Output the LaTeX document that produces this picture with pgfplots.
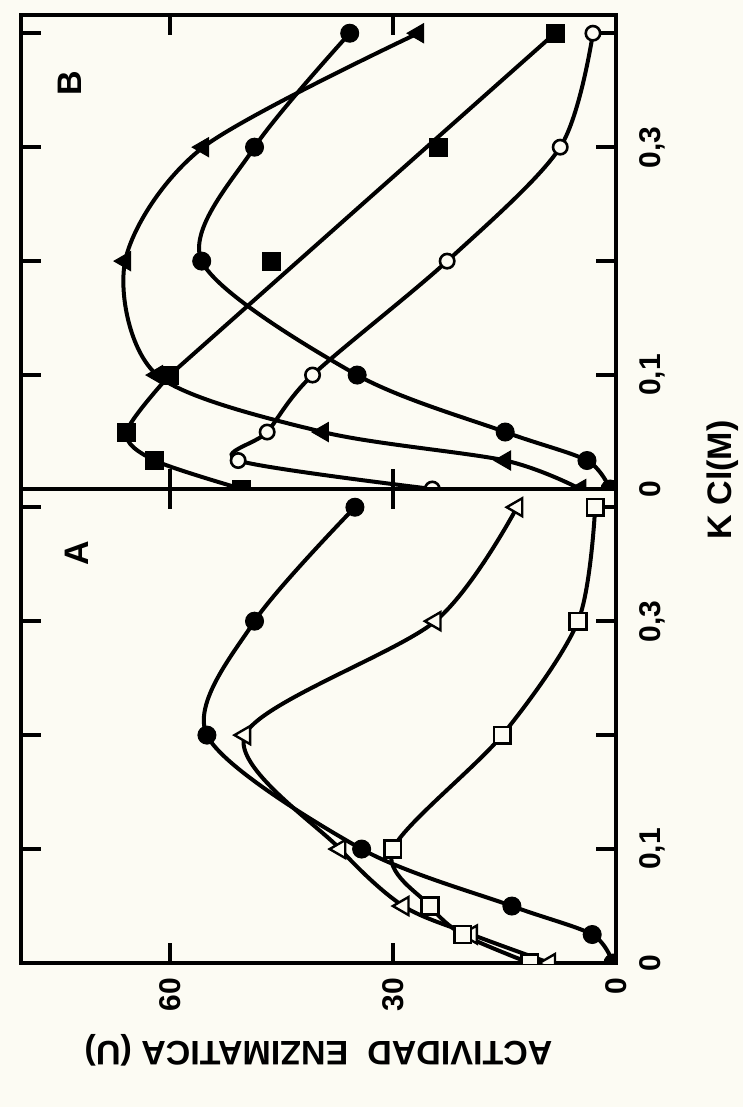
\documentclass[border=0pt]{standalone}
\usepackage{fontspec}
\setmainfont{Liberation Sans}
\usepackage{pgfplots}
\pgfplotsset{compat=1.18}
\definecolor{paper}{RGB}{252,251,243}

\pgfplotsset{
  panel/.style={
    scale only axis, width=297.5pt, height=237pt,
    xmin=0, xmax=80, x dir=reverse,
    ymin=0, ymax=0.416,
    xtick={0,30,60}, ytick={0,0.1,0.2,0.3,0.4},
    yticklabels={{0},{0,1},{},{0,3},{}},
    tick align=inside, major tick length=10pt,
    axis line style={line width=2.2pt},
    every tick/.style={line width=2pt, black},
    /pgf/number format/assume math mode=true,
    ticklabel style={font=\fontsize{15}{15}\selectfont\bfseries},
    yticklabel pos=right,
    yticklabel style={rotate=90, anchor=north},
    xticklabel style={rotate=90, anchor=east},
    yticklabel shift=8pt, xticklabel shift=4pt,
    clip marker paths=true,
    every axis plot/.append style={line width=2pt, black},
  },
  fcirc/.style={only marks, mark=*, mark size=4.5pt, mark options={fill=black, line width=0.5pt}},
  ocirc/.style={only marks, mark=*, mark size=3.6pt, mark options={fill=paper, draw=black, line width=1.3pt}},
  fsq/.style={only marks, mark=square*, mark size=4.5pt, mark options={fill=black, line width=0.5pt}},
  osq/.style={only marks, mark=square*, mark size=4.2pt, mark options={fill=paper, draw=black, line width=1.2pt}},
  ftri/.style={only marks, mark=triangle*, mark size=5.5pt, mark options={fill=black, rotate=90, line width=0.5pt}},
  otri/.style={only marks, mark=triangle*, mark size=5.2pt, mark options={fill=paper, draw=black, rotate=90, line width=1.2pt}},
}

\begin{document}
\begin{tikzpicture}[x=1pt,y=1pt]
\fill[paper] (0,0) rectangle (371.5,-553.5);

% Panel B (upper)
\begin{axis}[panel, at={(10.5pt,-244.5pt)}, anchor=south west, xticklabels={}]
  % filled circles
  \addplot[smooth] coordinates {(0.8,0) (3.9,0.025) (14.9,0.05) (34.8,0.1) (55.7,0.2) (48.6,0.3) (35.8,0.4)};
  % filled triangles
  \addplot[smooth] coordinates {(4.8,0) (14.9,0.025) (39.4,0.05) (61.7,0.1) (66.0,0.2) (55.5,0.3) (26.6,0.4)};
  % filled squares: curve up to 0.1 M, then straight line
  \addplot[smooth] coordinates {(50.3,0) (62.0,0.025) (65.8,0.05) (60.0,0.1)};
  \addplot[sharp plot] coordinates {(60.0,0.1) (8.2,0.4)};
  % open circles
  \addplot[smooth] coordinates {(24.7,0) (50.8,0.025) (46.9,0.05) (40.8,0.1) (22.7,0.2) (7.5,0.3) (3.1,0.4)};

  \addplot[fcirc] coordinates {(0.8,0) (3.9,0.025) (14.9,0.05) (34.8,0.1) (55.7,0.2) (48.6,0.3) (35.8,0.4)};
  \addplot[ftri] coordinates {(4.8,0) (14.9,0.025) (39.4,0.05) (61.7,0.1) (66.0,0.2) (55.5,0.3) (26.6,0.4)};
  \addplot[fsq] coordinates {(50.3,0) (62.0,0.025) (65.8,0.05) (60.0,0.1) (46.3,0.2) (23.9,0.3) (8.2,0.4)};
  \addplot[ocirc] coordinates {(24.7,0) (50.8,0.025) (46.9,0.05) (40.8,0.1) (22.7,0.2) (7.5,0.3) (3.1,0.4)};

  \node[rotate=90, font=\fontsize{17}{17}\selectfont\bfseries] at (axis cs:73.4,0.356) {B};
\end{axis}

% Panel A (lower)
\begin{axis}[panel, at={(10.5pt,-481.5pt)}, anchor=south west]
  \addplot[smooth] coordinates {(0.4,0) (3.2,0.025) (14.0,0.05) (34.2,0.1) (55.0,0.2) (48.6,0.3) (35.1,0.4)};
  \addplot[smooth] coordinates {(8.9,0) (19.4,0.025) (28.6,0.05) (37.1,0.1) (49.9,0.2) (24.3,0.3) (13.3,0.4)};
  \addplot[smooth] coordinates {(11.6,0) (20.6,0.025) (25.0,0.05) (30.0,0.1) (15.3,0.2) (5.1,0.3) (2.8,0.4)};

  \addplot[fcirc] coordinates {(0.4,0) (3.2,0.025) (14.0,0.05) (34.2,0.1) (55.0,0.2) (48.6,0.3) (35.1,0.4)};
  \addplot[otri] coordinates {(8.9,0) (19.4,0.025) (28.6,0.05) (37.1,0.1) (49.9,0.2) (24.3,0.3) (13.3,0.4)};
  \addplot[osq] coordinates {(11.6,0) (20.6,0.025) (25.0,0.05) (30.0,0.1) (15.3,0.2) (5.1,0.3) (2.8,0.4)};

  \node[rotate=90, font=\fontsize{17}{17}\selectfont\bfseries] at (axis cs:72.5,0.36) {A};
\end{axis}

\node[rotate=180, font=\fontsize{17}{17}\selectfont\bfseries] at (159.25,-525) {ACTIVIDAD\ \ ENZIMATICA (U)};
\node[rotate=90, font=\fontsize{17}{17}\selectfont\bfseries] at (361.5,-240) {K Cl(M)};
\end{tikzpicture}
\end{document}
